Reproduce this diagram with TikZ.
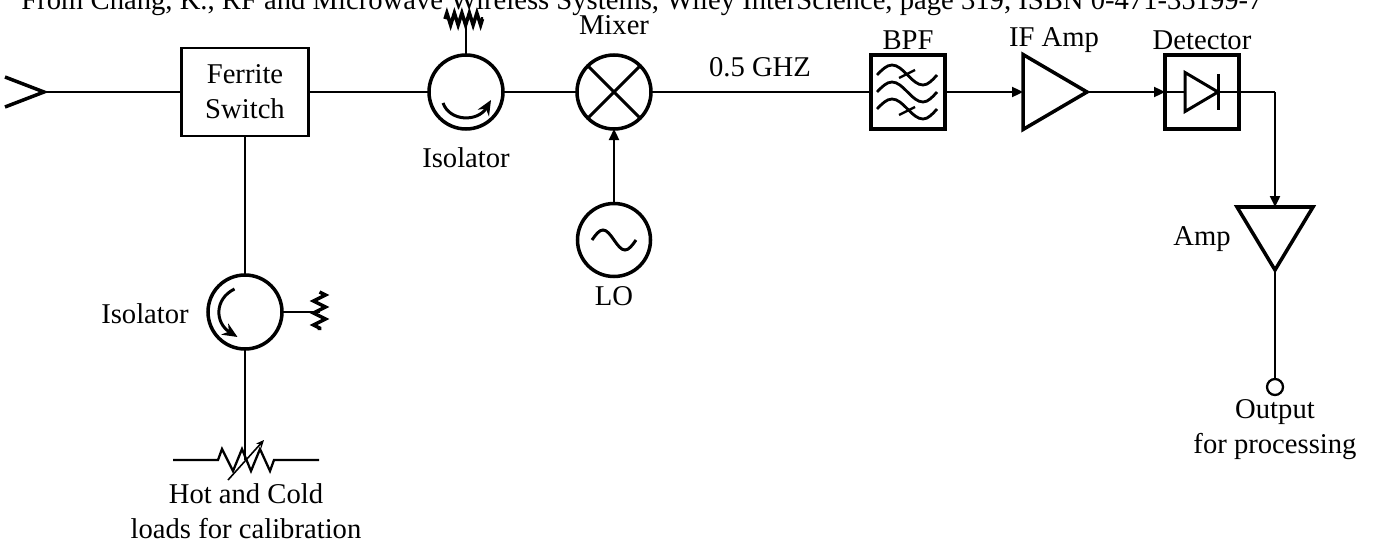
\documentclass[tikz,border=0pt]{standalone}
\usepackage{fontspec}
\setmainfont{Liberation Serif}
\usepackage{tikz}
\usetikzlibrary{shapes.geometric, arrows.meta, decorations.pathmorphing}
\tikzset{
    lead/.style={line width=1.3pt},
    sig/.style={lead, -{Stealth[length=0.22cm, width=0.2cm, inset=0pt]}},
    spin/.style={line width=1.7pt, -{Stealth[length=0.3cm, width=0.26cm]}},
    rfcirc/.style={circle, draw, line width=2pt, inner sep=0pt, outer sep=0pt, minimum size=1.48cm},
    rfbox/.style={rectangle, draw, line width=2pt, inner sep=0pt, outer sep=0pt, minimum size=1.48cm},
    ampshape/.style={isosceles triangle, isosceles triangle stretches, draw, line width=2pt, inner sep=0pt, outer sep=0pt, anchor=lower side},
    lbl/.style={font=\fontsize{16.3}{20}\selectfont, inner sep=0pt, anchor=base},
    term/.style={decorate, decoration={zigzag, amplitude=0.12cm}, line width=2pt}
}
\begin{document}
\begin{tikzpicture}
    \useasboundingbox (0,0) rectangle (27.48,10.96);

    % Title line
    \node[lbl] (title) at (12.84,10.76) {From Chang, K., RF and Microwave Wireless Systems, Wiley InterScience, page 319, ISBN 0-471-35199-7};

    % Blocks on the main line
    \coordinate (anttip) at (0.88,9.12);
    \node[rectangle, draw, line width=1.3pt, outer sep=0pt, minimum width=2.54cm, minimum height=1.76cm, align=center, font=\fontsize{16.3}{20}\selectfont] (switch) at (4.9,9.12) {Ferrite\\Switch};
    \node[rfcirc] (isotop) at (9.32,9.12) {};
    \node[rfcirc] (mixer) at (12.28,9.12) {};
    \node[rfbox] (bpf) at (18.16,9.12) {};
    \node[ampshape, minimum height=1.28cm, minimum width=1.5cm] (ifamp) at (20.46,9.12) {};
    \node[rfbox] (detector) at (24.04,9.12) {};
    \coordinate (elbow) at (25.5,9.12);

    % Local oscillator
    \node[rfcirc, minimum size=1.46cm] (lo) at (12.28,6.16) {};

    % Output chain
    \node[ampshape, shape border rotate=270, minimum width=1.52cm, minimum height=1.26cm] (amp) at (25.5,6.82) {};
    \node[circle, draw, line width=1.3pt, inner sep=0pt, outer sep=0pt, minimum size=0.32cm] (out) at (25.5,3.22) {};

    % Calibration branch
    \node[rfcirc] (isolow) at (4.9,4.72) {};
    \coordinate (loadin) at (4.9,1.76);
    \coordinate (loadl) at (3.46,1.76);
    \coordinate (loadr) at (6.38,1.76);

    % Labels
    \node[lbl] (mixerlbl) at (12.28,10.26) {Mixer};
    \node[lbl] (isotoplbl) at (9.32,7.6) {Isolator};
    \node[lbl] (freqlbl) at (15.2,9.42) {0.5 GHZ};
    \node[lbl] (bpflbl) at (18.16,9.96) {BPF};
    \node[lbl] (ifamplbl) at (21.08,10.02) {IF Amp};
    \node[lbl] (detectorlbl) at (24.04,9.96) {Detector};
    \node[lbl] (lolbl) at (12.28,4.86) {LO};
    \node[lbl] (isolowlbl) at (2.9,4.5) {Isolator};
    \node[lbl] (amplbl) at (24.04,6.06) {Amp};
    \node[lbl, anchor=center, align=center] (outlbl) at (25.5,2.36) {Output\\for processing};
    \node[lbl, anchor=center, align=center] (loadlbl) at (4.92,0.74) {Hot and Cold\\loads for calibration};

    % Antenna
    \draw[line width=2pt] (0.1,9.42) -- (anttip) -- (0.1,8.82);

    % Connectors
    \draw[lead] (anttip) -- (switch);
    \draw[lead] (switch) -- (isotop);
    \draw[lead] (isotop) -- (mixer);
    \draw[lead] (mixer) -- (bpf);
    \draw[sig] (bpf) -- (ifamp.lower side);
    \draw[sig] (ifamp.apex) -- (detector);
    \draw[sig] (lo) -- (mixer);
    \draw[lead] (switch) -- (isolow);
    \draw[lead] (isolow) -- (loadin);
    \draw[sig] (elbow) -- (amp.lower side);
    \draw[lead] (amp.apex) -- (out);

    % Mixer cross
    \draw[line width=1.8pt] (mixer.north west) -- (mixer.south east);
    \draw[line width=1.8pt] (mixer.north east) -- (mixer.south west);

    % Terminations
    \coordinate (termtop) at (9.32,10.58);
    \coordinate (termlow) at (6.39,4.72);
    \draw[lead] (isotop) -- (termtop);
    \draw[lead] (isolow) -- (termlow);
    \draw[term, decoration={segment length=0.15cm}] (8.9,10.58) -- (9.66,10.58);
    \draw[term, decoration={segment length=0.24cm}] (6.39,5.12) -- (6.39,4.36);

    % Circulation arrows
    \draw[spin, shift={(isotop.center)}] (-0.46,-0.22) .. controls (-0.32,-0.6) and (0.24,-0.6) .. (0.5,-0.16);
    \draw[spin, shift={(isolow.center)}] (-0.21,0.46) .. controls (-0.62,0.26) and (-0.6,-0.22) .. (-0.15,-0.5);

    % Oscillator sine
    \draw[line width=1.7pt, shift={(lo.center)}] (-0.44,0) sin (-0.22,0.2) cos (0,0) sin (0.22,-0.2) cos (0.44,0);

    % Filter waves
    \foreach \waveY in {9.46,9.12,8.78} {
        \draw[line width=1.6pt] (17.54,\waveY) sin ++(0.3,0.2) cos ++(0.31,-0.2) sin ++(0.31,-0.2) cos ++(0.28,0.2);
    }
    \draw[line width=1.3pt] (17.98,9.4) -- (18.3,9.56);
    \draw[line width=1.3pt] (17.98,8.66) -- (18.3,8.82);

    % Diode
    \draw[line width=1.7pt] (23.7,9.51) -- (24.36,9.12) -- (23.7,8.73) -- cycle;
    \draw[line width=1.7pt] (24.36,9.48) -- (24.36,8.76);
    \draw[lead] (detector.west) -- (23.7,9.12);
    \draw[lead] (24.36,9.12) -- (elbow);

    % Variable load
    \draw[lead, line join=miter] (loadl) -- (4.36,1.76) -- (4.44,1.98) -- (4.66,1.54) -- (4.84,1.98) -- (5.02,1.54) -- (5.2,1.98) -- (5.4,1.54) -- (5.48,1.76) -- (loadr);
    \draw[line width=0.9pt, -{Stealth[length=0.16cm, width=0.14cm]}] (4.56,1.36) -- (5.28,2.16);
\end{tikzpicture}
\end{document}
